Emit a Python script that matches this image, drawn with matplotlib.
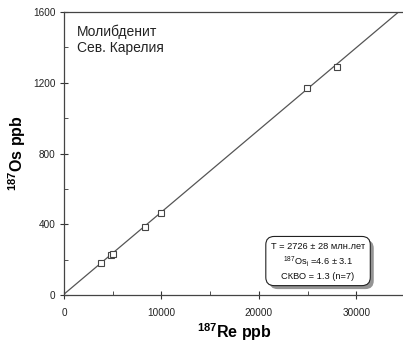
import numpy as np
import matplotlib
matplotlib.use("Agg")
import matplotlib.pyplot as plt
import matplotlib.patheffects as pe
from matplotlib.ticker import MultipleLocator

plt.rcParams['font.family'] = ['Liberation Sans', 'DejaVu Sans']
plt.rcParams['mathtext.default'] = 'regular'

# Re-Os data for molybdenite samples
re_ppb = [3800, 4800, 5000, 8300, 9950, 24950, 28000]
os_ppb = [181, 226, 233, 382, 465, 1168, 1290]

# Isochron parameters
age_ma = 2726
os_initial = 4.6
decay_const = 1.666e-11  # 187Re decay constant, 1/yr
slope = np.exp(decay_const * age_ma * 1e6) - 1

x_ticks = [0, 10000, 20000, 30000]
y_ticks = [0, 400, 800, 1200, 1600]

fig = plt.figure(figsize=(4.03, 3.42), dpi=100)
ax = fig.add_axes([64 / 403, 1 - 295 / 342, 341 / 403, 283 / 342])

xl = np.array([0, 35000])
ax.plot(xl, os_initial + slope * xl, color='#555555', lw=0.9, zorder=2)
ax.plot(re_ppb, os_ppb, ls='none', marker='s', ms=5, mfc='white',
        mec='#444444', mew=0.8, zorder=3)

ax.set_xlim(0, 35000)
ax.set_ylim(0, 1600)
ax.set_xticks(x_ticks)
ax.set_yticks(y_ticks)
ax.xaxis.set_minor_locator(MultipleLocator(5000))
ax.yaxis.set_minor_locator(MultipleLocator(200))
ax.tick_params(which='major', direction='inout', length=6, width=0.8,
               labelsize=7.2, color='#333333', labelcolor='#222222')
ax.tick_params(which='minor', direction='in', length=3, width=0.6,
               color='#333333')
ax.tick_params(axis='x', pad=6)
ax.tick_params(axis='y', pad=3)
ax.spines['right'].set_visible(False)
for s in ('left', 'bottom', 'top'):
    ax.spines[s].set_color('#444444')
    ax.spines[s].set_linewidth(0.9)

ax.set_xlabel('$^{187}$Re ppb', fontsize=11.5, fontweight='bold', labelpad=3)
ax.set_ylabel('$^{187}$Os ppb', fontsize=11.5, fontweight='bold', labelpad=4)

ax.text(0.039, 0.957, 'Молибденит\nСев. Карелия', transform=ax.transAxes,
        ha='left', va='top', fontsize=10, color='#222222', linespacing=1.2)

box_txt = ('T = 2726 ± 28 млн.лет\n'
           '$^{187}$Os$_i$ =4.6 ± 3.1\n'
           'СКВО = 1.3 (n=7)')
t = ax.text(0.745, 0.12, box_txt, transform=ax.transAxes, ha='center',
            va='center', fontsize=6.7, linespacing=1.35, color='#111111',
            bbox=dict(boxstyle='round,pad=0.55,rounding_size=0.9',
                      fc='white', ec='#222222', lw=0.8))
t.get_bbox_patch().set_path_effects([
    pe.SimplePatchShadow(offset=(2.5, -2.5), shadow_rgbFace='#888888', alpha=0.9),
    pe.Normal()])

fig.savefig('out.png', dpi=100)
